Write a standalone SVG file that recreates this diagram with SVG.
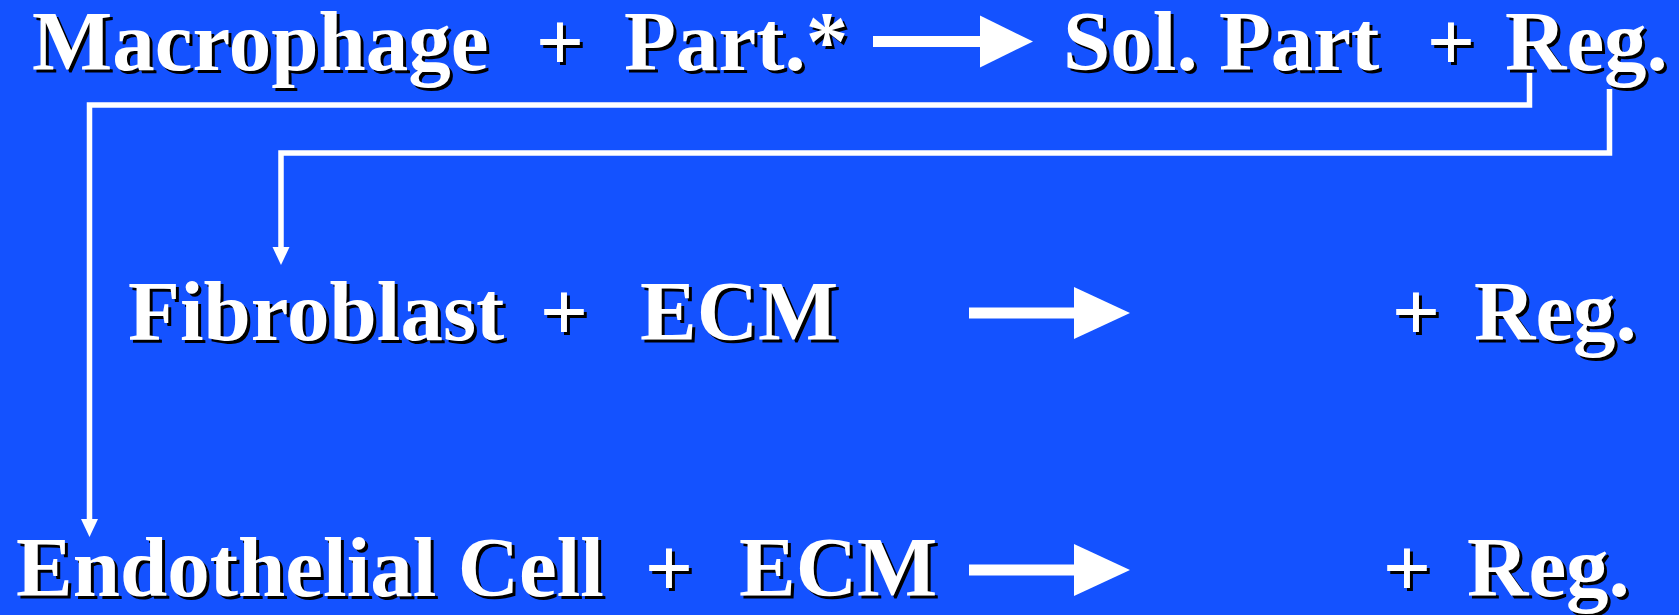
<svg xmlns="http://www.w3.org/2000/svg" width="1679" height="615" viewBox="0 0 1679 615">
  <defs>
    <style>
      text { font-family: 'Liberation Serif', 'Times New Roman', Times, serif; font-weight: 700; font-size: 85px; }
      .fg { fill: #ffffff; }
      .sh { fill: #000000; }
      .m { text-anchor: middle; }
      .wire { fill: none; stroke: #ffffff; stroke-width: 5.5; stroke-linejoin: miter; }
      .head { fill: #ffffff; }
    </style>
  </defs>

  <rect x="0" y="0" width="1679" height="615" fill="#1452FF"/>

  <!-- every label is drawn twice: a black copy offset 3px down-right, then the white face -->

  <!-- row 1: macrophage reaction -->
  <g id="macrophage">
    <text class="sh" x="35" y="73" font-family="Liberation Serif, serif">Macrophage</text>
    <text class="fg" x="32" y="70" font-family="Liberation Serif, serif">Macrophage</text>
  </g>
  <g id="plus-1a">
    <text class="sh m" x="563" y="73" font-family="Liberation Serif, serif">+</text>
    <text class="fg m" x="560" y="70" font-family="Liberation Serif, serif">+</text>
  </g>
  <g id="particle">
    <text class="sh" x="627" y="73" font-family="Liberation Serif, serif">Part.*</text>
    <text class="fg" x="624" y="70" font-family="Liberation Serif, serif">Part.*</text>
  </g>
  <g id="arrow-1">
    <rect x="873" y="36" width="108" height="11" class="head"/>
    <polygon points="980,15.5 1033,41.5 980,67.5" class="head"/>
  </g>
  <g id="sol-part">
    <text class="sh" x="1066" y="73" font-family="Liberation Serif, serif">Sol. Part</text>
    <text class="fg" x="1063" y="70" font-family="Liberation Serif, serif">Sol. Part</text>
  </g>
  <g id="plus-1b">
    <text class="sh m" x="1454" y="73" font-family="Liberation Serif, serif">+</text>
    <text class="fg m" x="1451" y="70" font-family="Liberation Serif, serif">+</text>
  </g>
  <g id="reg-1">
    <text class="sh" x="1508" y="73" font-family="Liberation Serif, serif">Reg.</text>
    <text class="fg" x="1505" y="70" font-family="Liberation Serif, serif">Reg.</text>
  </g>

  <!-- row 2: fibroblast reaction -->
  <g id="fibroblast">
    <text class="sh" x="131" y="343" font-family="Liberation Serif, serif">Fibroblast</text>
    <text class="fg" x="128" y="340" font-family="Liberation Serif, serif">Fibroblast</text>
  </g>
  <g id="plus-2a">
    <text class="sh m" x="567" y="343" font-family="Liberation Serif, serif">+</text>
    <text class="fg m" x="564" y="340" font-family="Liberation Serif, serif">+</text>
  </g>
  <g id="ecm-2">
    <text class="sh" x="643" y="343" font-family="Liberation Serif, serif">ECM</text>
    <text class="fg" x="640" y="340" font-family="Liberation Serif, serif">ECM</text>
  </g>
  <g id="arrow-2">
    <rect x="969" y="307.5" width="106" height="11" class="head"/>
    <polygon points="1074,287 1130,313 1074,339" class="head"/>
  </g>
  <g id="plus-2b">
    <text class="sh m" x="1419" y="343" font-family="Liberation Serif, serif">+</text>
    <text class="fg m" x="1416" y="340" font-family="Liberation Serif, serif">+</text>
  </g>
  <g id="reg-2">
    <text class="sh" x="1477" y="343" font-family="Liberation Serif, serif">Reg.</text>
    <text class="fg" x="1474" y="340" font-family="Liberation Serif, serif">Reg.</text>
  </g>

  <!-- row 3: endothelial reaction -->
  <g id="endothelial">
    <text class="sh" x="19" y="599" font-family="Liberation Serif, serif">Endothelial Cell</text>
    <text class="fg" x="16" y="596" font-family="Liberation Serif, serif">Endothelial Cell</text>
  </g>
  <g id="plus-3a">
    <text class="sh m" x="672" y="599" font-family="Liberation Serif, serif">+</text>
    <text class="fg m" x="669" y="596" font-family="Liberation Serif, serif">+</text>
  </g>
  <g id="ecm-3">
    <text class="sh" x="742" y="599" font-family="Liberation Serif, serif">ECM</text>
    <text class="fg" x="739" y="596" font-family="Liberation Serif, serif">ECM</text>
  </g>
  <g id="arrow-3">
    <rect x="969" y="564.5" width="106" height="11" class="head"/>
    <polygon points="1074,544 1130,570 1074,596" class="head"/>
  </g>
  <g id="plus-3b">
    <text class="sh m" x="1410" y="599" font-family="Liberation Serif, serif">+</text>
    <text class="fg m" x="1407" y="596" font-family="Liberation Serif, serif">+</text>
  </g>
  <g id="reg-3">
    <text class="sh" x="1470" y="599" font-family="Liberation Serif, serif">Reg.</text>
    <text class="fg" x="1467" y="596" font-family="Liberation Serif, serif">Reg.</text>
  </g>

  <!-- regulator feedback lines -->
  <g id="connectors">
    <polyline class="wire" points="1529.5,73 1529.5,105 89.5,105 89.5,520"/>
    <path class="head" d="M81,519 L98,519 L89.5,537 Z"/>
    <polyline class="wire" points="1609.5,89 1609.5,153 281,153 281,248"/>
    <path class="head" d="M272.5,247 L289.5,247 L281,265 Z"/>
  </g>
</svg>
